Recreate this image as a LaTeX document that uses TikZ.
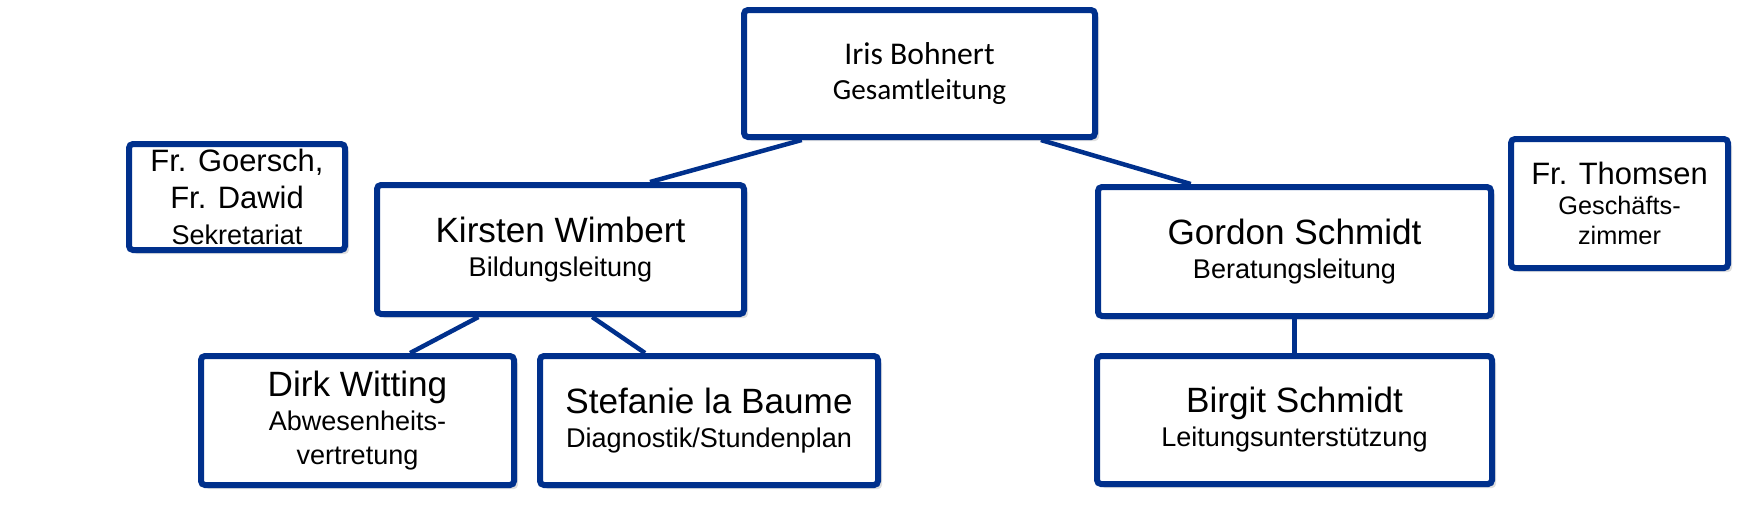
\documentclass[tikz,border=0pt]{standalone}
\usepackage{fontspec}
\setmainfont{Liberation Sans}
\newfontfamily\calibri{Carlito}
\usepackage{xcolor}
\usetikzlibrary{shadows,calc}
\definecolor{orgblue}{RGB}{0,48,140}
\newcommand{\Name}[1]{{\fontsize{10}{10}\selectfont #1}}
\newcommand{\Frau}[1]{{\fontsize{8.8}{9}\selectfont #1}}

\begin{document}
\begin{tikzpicture}[x=0.1mm,y=-0.1mm,
        box/.style={draw=orgblue, line width=0.6mm, rounded corners=0.4mm, fill=white,
            align=center, inner sep=0pt, font=\fontsize{7.7}{9.7}\selectfont,
            drop shadow={opacity=0.25, shadow xshift=0.4mm, shadow yshift=-0.4mm}},
        link/.style={draw=orgblue, line width=0.45mm}]
    \useasboundingbox (0,0) rectangle (1748,521);
    % Leitung
    \node[box, minimum width=35.1mm, minimum height=12.7mm,
        font=\calibri\fontsize{8.3}{10}\selectfont] (iris) at (919.5,73.5)
        {{\fontsize{9}{10}\selectfont Iris Bohnert}\\Gesamtleitung};
    \node[box, minimum width=21.6mm, minimum height=10.6mm,
        font=\fontsize{8.8}{10.5}\selectfont] (sekretariat) at (237,197)
        {Fr. Goersch,\\Fr. Dawid\\{\fontsize{7.7}{8}\selectfont Sekretariat}};
    \node[box, minimum width=21.7mm, minimum height=12.9mm,
        font=\fontsize{7.2}{8.6}\selectfont] (thomsen) at (1619.5,203.5)
        {\Frau{Fr. Thomsen}\\Geschäfts-\\zimmer};
    % Bereiche
    \node[box, minimum width=36.7mm, minimum height=12.9mm] (kirsten) at (560.5,249.5)
        {\Name{Kirsten Wimbert}\\Bildungsleitung};
    \node[box, minimum width=39.3mm, minimum height=12.9mm] (gordon) at (1294.5,251.5)
        {\Name{Gordon Schmidt}\\Beratungsleitung};
    % Mitarbeiter
    \node[box, minimum width=31.3mm, minimum height=12.9mm] (dirk) at (357.5,420.5)
        {\Name{Dirk Witting}\\Abwesenheits-\\vertretung};
    \node[box, minimum width=33.8mm, minimum height=12.9mm] (stefanie) at (709,420.5)
        {\Name{Stefanie la Baume}\\Diagnostik/Stundenplan};
    \node[box, minimum width=39.5mm, minimum height=12.8mm] (birgit) at (1294.5,420)
        {\Name{Birgit Schmidt}\\Leitungsunterstützung};

    \foreach \a/\pa/\b/\pb in {iris/.17/kirsten/.74, iris/.84/gordon/.24,
            kirsten/.28/dirk/.665, kirsten/.585/stefanie/.314, gordon/.5/birgit/.5}
        \draw[link] ($(\a.south west)!\pa!(\a.south east)$) -- ($(\b.north west)!\pb!(\b.north east)$);
\end{tikzpicture}
\end{document}
